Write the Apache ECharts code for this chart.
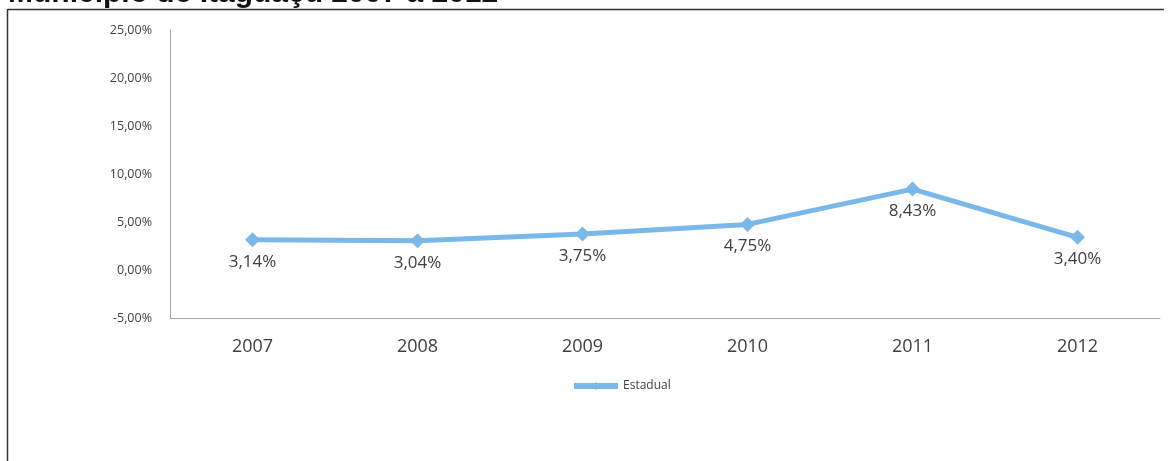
<!DOCTYPE html>
<html>
<head>
<meta charset="utf-8">
<script src="https://cdn.jsdelivr.net/npm/echarts@6/dist/echarts.min.js"></script>
<style>html,body{margin:0;padding:0;background:#fff}#c{width:1168px;height:461px}</style>
</head>
<body>
<div id="c"></div>
<script>
const categories = ['2007', '2008', '2009', '2010', '2011', '2012'];
const estadual = [3.14, 3.04, 3.75, 4.75, 8.43, 3.40];
const seriesName = 'Estadual';
const titleText = 'Município de Itaguaçu 2007 a 2012';

const fmt = v => v.toFixed(2).replace('.', ',') + '%';

const chart = echarts.init(document.getElementById('c'));
chart.setOption({
  animation: false,
  backgroundColor: '#fff',
  grid: { left: 170, right: 8, top: 30, bottom: 143 },
  legend: {
    data: [seriesName],
    left: 566, top: 375,
    itemWidth: 44, itemHeight: 10, itemGap: 2,
    lineStyle: { width: 6 },
    textStyle: { fontFamily: 'Open Sans', fontSize: 12, color: '#404040' }
  },
  xAxis: {
    type: 'category',
    data: categories,
    boundaryGap: true,
    axisLine: { onZero: false, lineStyle: { color: '#a6a6a6', width: 1 } },
    axisTick: { show: false },
    axisLabel: { margin: 20, fontFamily: 'Open Sans', fontSize: 18, color: '#404040' }
  },
  yAxis: {
    type: 'value',
    min: -5, max: 25, interval: 5,
    splitLine: { show: false },
    axisLine: { show: true, lineStyle: { color: '#a6a6a6', width: 1 } },
    axisTick: { show: false },
    axisLabel: { margin: 18, fontFamily: 'Open Sans', fontSize: 12.5, color: '#404040', formatter: fmt }
  },
  series: [{
    name: seriesName,
    type: 'line',
    data: estadual,
    symbol: 'diamond',
    symbolSize: 15,
    lineStyle: { color: '#7ab8ea', width: 5 },
    itemStyle: { color: '#7ab8ea' },
    label: {
      show: true, position: 'bottom', distance: 6,
      fontFamily: 'Open Sans', fontSize: 17, color: '#404040',
      formatter: p => fmt(p.value)
    }
  }],
  graphic: [
    { type: 'text', left: 8, top: -21, style: { text: titleText, font: 'bold 30px "Liberation Sans"', fill: '#111' } },
    { type: 'line', shape: { x1: 8, y1: 9.5, x2: 1164, y2: 9.5 }, style: { stroke: '#333', lineWidth: 1.5 } },
    { type: 'line', shape: { x1: 7.5, y1: 9, x2: 7.5, y2: 461 }, style: { stroke: '#333', lineWidth: 1.5 } }
  ]
});
</script>
</body>
</html>
